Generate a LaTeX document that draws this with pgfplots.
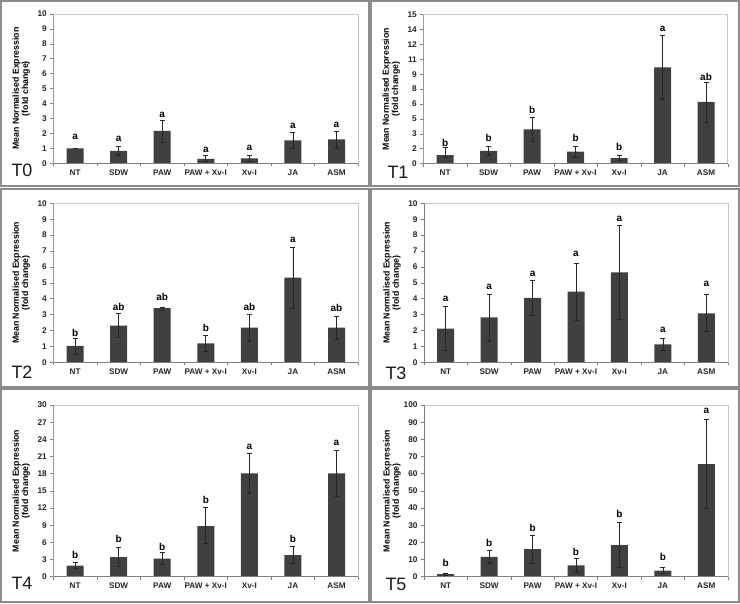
\documentclass[border=0pt]{standalone}
\usepackage{fontspec}
\setmainfont{Liberation Sans}
\usepackage{pgfplots}
\usepackage{pgfplotstable}
\pgfplotsset{compat=1.18}

\definecolor{barc}{HTML}{404040}
\definecolor{axc}{HTML}{7F7F7F}
\definecolor{frc}{HTML}{C8C8C8}
\definecolor{bordc}{HTML}{8C8C8C}

% columns: x  y(mean)  t(error top)  b(error bottom)  ly(letter position)  lab(letter)
\pgfplotstableread{
x y t b ly lab
0 1.00 1.00 1.00 1.79 a
1 0.83 1.16 0.54 1.67 a
2 2.17 2.88 1.41 3.24 a
3 0.29 0.51 0.16 0.89 a
4 0.33 0.51 0.16 1.05 a
5 1.54 2.08 1.00 2.50 a
6 1.61 2.17 1.03 2.57 a
}\tzero
\pgfplotstableread{
x y t b ly lab
0 0.87 1.61 0.64 2.05 b
1 1.28 1.78 0.84 2.62 b
2 3.46 4.68 2.25 5.42 b
3 1.21 1.78 0.64 2.62 b
4 0.57 0.84 0.30 1.72 b
5 9.69 12.95 6.42 13.56 a
6 6.22 8.21 4.20 8.68 ab
}\tone
\pgfplotstableread{
x y t b ly lab
0 1.03 1.51 0.52 1.87 b
1 2.31 3.08 1.55 3.50 ab
2 3.40 3.48 3.29 4.09 ab
3 1.19 1.72 0.67 2.18 b
4 2.18 3.02 1.32 3.50 ab
5 5.32 7.23 3.40 7.69 a
6 2.18 2.91 1.45 3.40 ab
}\ttwo
\pgfplotstableread{
x y t b ly lab
0 2.12 3.50 0.73 3.96 a
1 2.83 4.30 1.34 4.72 a
2 4.05 5.14 2.94 5.56 a
3 4.44 6.23 2.62 6.79 a
4 5.66 8.62 2.72 9.04 a
5 1.13 1.49 0.78 2.03 a
6 3.08 4.26 1.93 4.93 a
}\tthree
\pgfplotstableread{
x y t b ly lab
0 1.92 2.50 1.40 3.79 b
1 3.44 5.18 1.75 6.52 b
2 3.15 4.19 2.15 5.24 b
3 8.85 12.06 5.77 13.40 b
4 18.06 21.55 14.56 22.70 a
5 3.79 5.24 2.33 6.58 b
6 18.06 22.00 14.10 23.30 a
}\tfour
\pgfplotstableread{
x y t b ly lab
0 1.55 2.10 1.00 7.8 b
1 11.5 15.1 7.6 19.4 b
2 16.1 24.3 8.0 28.2 b
3 6.6 10.5 2.5 14.6 b
4 18.4 31.5 5.4 36.3 b
5 3.5 5.2 1.9 11.3 b
6 65.6 91.8 39.8 96.7 a
}\tfive

\pgfplotsset{
  /pgf/number format/assume math mode=true,
  panel/.style={
    scale only axis, width=305bp,
    anchor=south west,
    xmin=-0.5, xmax=6.5, ymin=0,
    axis line style={draw=frc, line width=0.8bp},
    tick pos=left, tick align=outside,
    xtick={0,...,6},
    xticklabels={NT,SDW,PAW,PAW + Xv-I,Xv-I,JA,ASM},
    minor xtick={-0.5,0.5,...,6.5},
    major tick length=3bp, minor tick length=3bp,
    major x tick style={draw=none},
    every tick/.append style={axc, line width=0.6bp},
    xticklabel style={font=\fontsize{8.2}{9}\selectfont\bfseries, text=black!85},
    yticklabel style={font=\fontsize{8.3}{9}\selectfont\bfseries, text=black!85},
    ylabel={Mean Normalised Expression\\(fold change)},
    every axis y label/.style={at={(axis description cs:0,0.5)}, xshift=-32bp, rotate=90, anchor=center,
      align=center, font=\fontsize{8.8}{9.2}\selectfont\bfseries},
  },
  bars/.style={ybar, bar width=17bp, fill=barc, draw=none,
    error bars/.cd, y dir=both, y explicit,
    error bar style={draw=black!85, line width=0.7bp},
    error mark options={rotate=90, black!85, line width=0.7bp, mark size=2.5bp}},
  letters/.style={draw=none, mark=none, nodes near coords, point meta=explicit symbolic,
    nodes near coords style={anchor=center, font=\fontsize{10}{10}\selectfont\bfseries, text=black}},
}
\newcommand{\axlines}{\draw[axc, line width=0.8bp] (rel axis cs:0,1) -- (rel axis cs:0,0) -- (rel axis cs:1,0);}

\begin{document}
\begin{tikzpicture}
\useasboundingbox (0,0) rectangle (740bp,-604bp);
\fill[white] (0,0) rectangle (740bp,-604bp);
% panel frames
\draw[bordc, line width=1.2bp] (1bp,-1bp) rectangle (369bp,-186bp);
\draw[bordc, line width=1.2bp] (371bp,-1bp) rectangle (739bp,-186bp);
\draw[bordc, line width=1.2bp] (1bp,-189bp) rectangle (369bp,-387bp);
\draw[bordc, line width=1.2bp] (371bp,-189bp) rectangle (739bp,-387bp);
\draw[bordc, line width=1.2bp] (1bp,-389bp) rectangle (369bp,-602bp);
\draw[bordc, line width=1.2bp] (371bp,-389bp) rectangle (739bp,-602bp);

% T0
\begin{axis}[panel, at={(53.3bp,-163.3bp)}, height=149.3bp, ymax=10, ytick={0,1,...,10}]
\addplot[bars] table[x=x, y=y, y error plus expr=\thisrow{t}-\thisrow{y}, y error minus expr=\thisrow{y}-\thisrow{b}] {\tzero};
\addplot[letters] table[x=x, y=ly, meta=lab] {\tzero};
\axlines
\end{axis}
% T1
\begin{axis}[panel, at={(423.3bp,-163.7bp)}, width=304.5bp, height=149.2bp, ymax=15,
  ytick={0,1.5,...,15}, yticklabels={0,2,3,5,6,8,9,11,12,14,15}]
\addplot[bars] table[x=x, y=y, y error plus expr=\thisrow{t}-\thisrow{y}, y error minus expr=\thisrow{y}-\thisrow{b}] {\tone};
\addplot[letters] table[x=x, y=ly, meta=lab] {\tone};
\axlines
\end{axis}
% T2
\begin{axis}[panel, at={(53.3bp,-362.3bp)}, height=159bp, ymax=10, ytick={0,1,...,10}]
\addplot[bars] table[x=x, y=y, y error plus expr=\thisrow{t}-\thisrow{y}, y error minus expr=\thisrow{y}-\thisrow{b}] {\ttwo};
\addplot[letters] table[x=x, y=ly, meta=lab] {\ttwo};
\axlines
\end{axis}
% T3
\begin{axis}[panel, at={(424bp,-362.3bp)}, width=304bp, height=159bp, ymax=10, ytick={0,1,...,10}]
\addplot[bars] table[x=x, y=y, y error plus expr=\thisrow{t}-\thisrow{y}, y error minus expr=\thisrow{y}-\thisrow{b}] {\tthree};
\addplot[letters] table[x=x, y=ly, meta=lab] {\tthree};
\axlines
\end{axis}
% T4
\begin{axis}[panel, at={(53.3bp,-576.7bp)}, height=171.7bp, ymax=30, ytick={0,3,...,30}]
\addplot[bars] table[x=x, y=y, y error plus expr=\thisrow{t}-\thisrow{y}, y error minus expr=\thisrow{y}-\thisrow{b}] {\tfour};
\addplot[letters] table[x=x, y=ly, meta=lab] {\tfour};
\axlines
\end{axis}
% T5
\begin{axis}[panel, at={(424bp,-576.7bp)}, width=304bp, height=171.7bp, ymax=100, ytick={0,10,...,100}]
\addplot[bars] table[x=x, y=y, y error plus expr=\thisrow{t}-\thisrow{y}, y error minus expr=\thisrow{y}-\thisrow{b}] {\tfive};
\addplot[letters] table[x=x, y=ly, meta=lab] {\tfive};
\axlines
\end{axis}

% panel labels
\tikzset{plab/.style={font=\fontsize{18}{20}\selectfont, text=black!90}}
\node[plab] at (22bp,-170bp) {T0};
\node[plab] at (398bp,-172bp) {T1};
\node[plab] at (22bp,-372bp) {T2};
\node[plab] at (396bp,-373bp) {T3};
\node[plab] at (22bp,-583bp) {T4};
\node[plab] at (396bp,-584bp) {T5};
\end{tikzpicture}
\end{document}
